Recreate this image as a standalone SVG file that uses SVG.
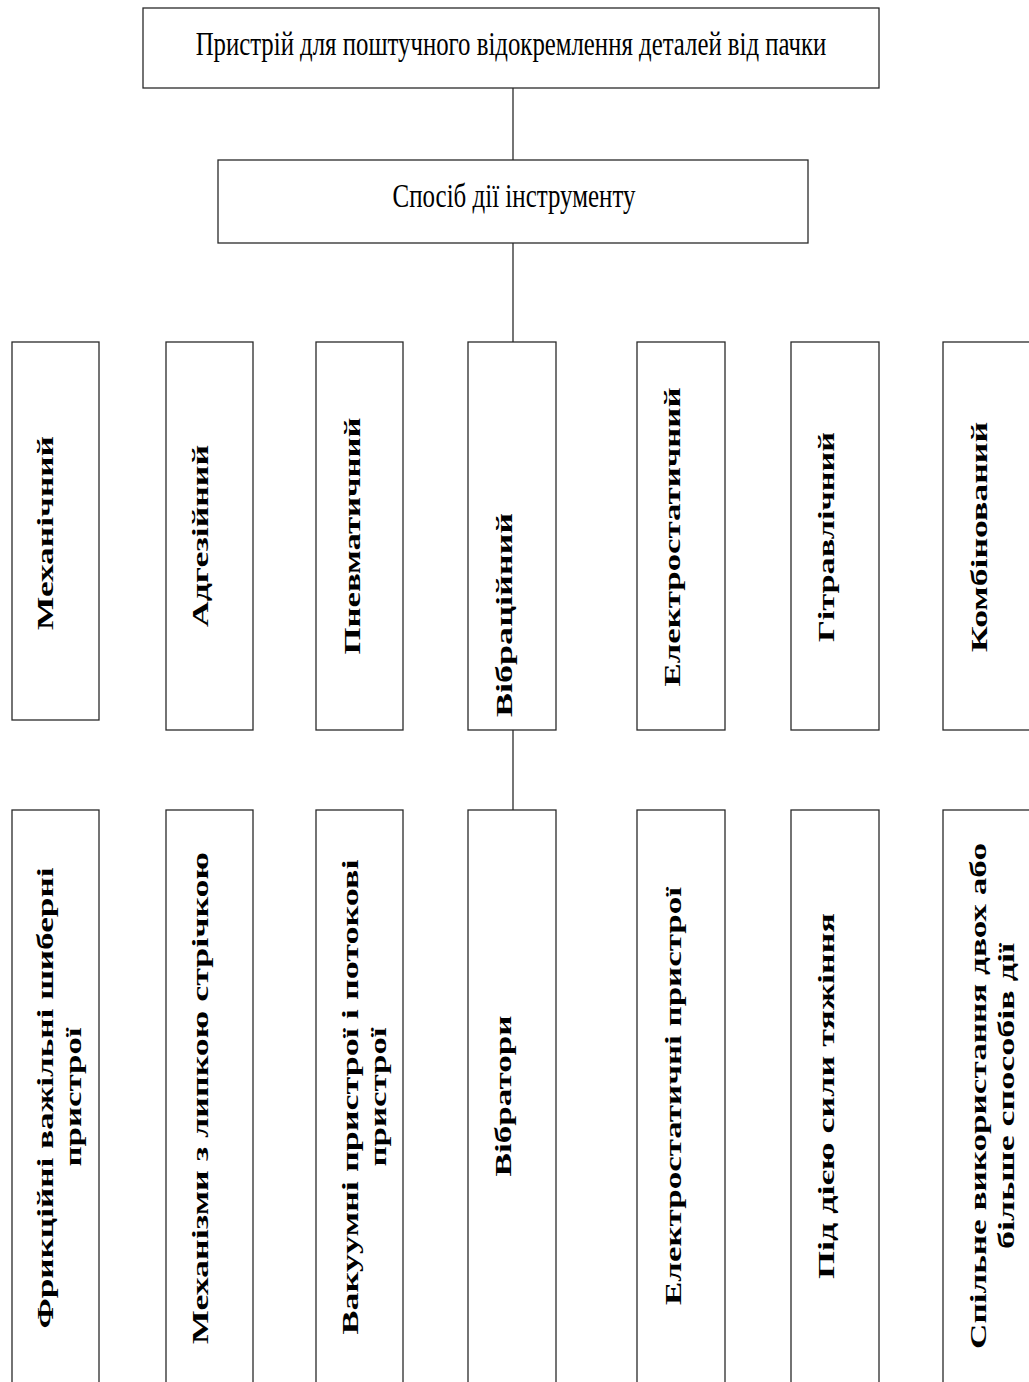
<svg xmlns="http://www.w3.org/2000/svg" width="1029" height="1382" viewBox="0 0 1029 1382">
<style>
.box{fill:#fff;stroke:#2a2a2a;stroke-width:1.3}
.ln{stroke:#2a2a2a;stroke-width:1.3;fill:none}
.h{font-family:"Liberation Serif","Times New Roman",serif;font-size:34px;fill:#000;text-anchor:middle}
.v{font-family:"Liberation Serif","Times New Roman",serif;font-size:24px;font-weight:bold;fill:#000;text-anchor:middle}
</style>
<rect width="1029" height="1382" fill="#fff"/>
<g id="connectors">
<line class="ln" x1="513" y1="88" x2="513" y2="160"/>
<line class="ln" x1="513" y1="243" x2="513" y2="342"/>
<line class="ln" x1="513" y1="730" x2="513" y2="810"/>
</g>
<g id="root">
<rect class="box" x="143" y="8" width="736" height="80"/>
<text class="h" transform="translate(511,55) scale(0.75,1)" textLength="841" lengthAdjust="spacingAndGlyphs">Пристрій для поштучного відокремлення деталей від пачки</text>
</g>
<g id="method">
<rect class="box" x="218" y="160" width="590" height="83"/>
<text class="h" transform="translate(514,207) scale(0.75,1)" textLength="324" lengthAdjust="spacingAndGlyphs">Спосіб дії інструменту</text>
</g>
<g id="mech">
<rect class="box" x="12" y="342" width="87" height="378"/>
<text class="v" transform="translate(53,533) rotate(-90)" textLength="194" lengthAdjust="spacingAndGlyphs">Механічний</text>
</g>
<g id="adh">
<rect class="box" x="166" y="342" width="87" height="388"/>
<text class="v" transform="translate(208,536) rotate(-90)" textLength="182" lengthAdjust="spacingAndGlyphs">Адгезійний</text>
</g>
<g id="pneu">
<rect class="box" x="316" y="342" width="87" height="388"/>
<text class="v" transform="translate(360,536) rotate(-90)" textLength="237" lengthAdjust="spacingAndGlyphs">Пневматичний</text>
</g>
<g id="vibr">
<rect class="box" x="468" y="342" width="88" height="388"/>
<text class="v" transform="translate(512,615) rotate(-90)" textLength="204" lengthAdjust="spacingAndGlyphs">Вібраційний</text>
</g>
<g id="elec">
<rect class="box" x="637" y="342" width="88" height="388"/>
<text class="v" transform="translate(680,537) rotate(-90)" textLength="299" lengthAdjust="spacingAndGlyphs">Електростатичний</text>
</g>
<g id="gitr">
<rect class="box" x="791" y="342" width="88" height="388"/>
<text class="v" transform="translate(834,537) rotate(-90)" textLength="210" lengthAdjust="spacingAndGlyphs">Гітравлічний</text>
</g>
<g id="komb">
<rect class="box" x="943" y="342" width="92" height="388"/>
<text class="v" transform="translate(987,537) rotate(-90)" textLength="230" lengthAdjust="spacingAndGlyphs">Комбінований</text>
</g>
<g id="fric">
<rect class="box" x="12" y="810" width="87" height="580"/>
<text class="v" transform="translate(53,1098) rotate(-90)" textLength="461" lengthAdjust="spacingAndGlyphs">Фрикційні важільні шиберні</text>
<text class="v" transform="translate(81,1097) rotate(-90)" textLength="139" lengthAdjust="spacingAndGlyphs">пристрої</text>
</g>
<g id="tape">
<rect class="box" x="166" y="810" width="87" height="580"/>
<text class="v" transform="translate(208,1098) rotate(-90)" textLength="492" lengthAdjust="spacingAndGlyphs">Механізми з липкою стрічкою</text>
</g>
<g id="vac">
<rect class="box" x="316" y="810" width="87" height="580"/>
<text class="v" transform="translate(358,1097) rotate(-90)" textLength="475" lengthAdjust="spacingAndGlyphs">Вакуумні пристрої і потокові</text>
<text class="v" transform="translate(386,1097) rotate(-90)" textLength="139" lengthAdjust="spacingAndGlyphs">пристрої</text>
</g>
<g id="vibrators">
<rect class="box" x="468" y="810" width="88" height="580"/>
<text class="v" transform="translate(511,1096) rotate(-90)" textLength="161" lengthAdjust="spacingAndGlyphs">Вібратори</text>
</g>
<g id="elecdev">
<rect class="box" x="637" y="810" width="88" height="580"/>
<text class="v" transform="translate(681,1096) rotate(-90)" textLength="418" lengthAdjust="spacingAndGlyphs">Електростатичні пристрої</text>
</g>
<g id="grav">
<rect class="box" x="791" y="810" width="88" height="580"/>
<text class="v" transform="translate(834,1096) rotate(-90)" textLength="366" lengthAdjust="spacingAndGlyphs">Під дією сили тяжіння</text>
</g>
<g id="comb">
<rect class="box" x="943" y="810" width="92" height="580"/>
<text class="v" transform="translate(986,1096) rotate(-90)" textLength="506" lengthAdjust="spacingAndGlyphs">Спільне використання двох або</text>
<text class="v" transform="translate(1014,1096) rotate(-90)" textLength="306" lengthAdjust="spacingAndGlyphs">більше способів дії</text>
</g>
</svg>
